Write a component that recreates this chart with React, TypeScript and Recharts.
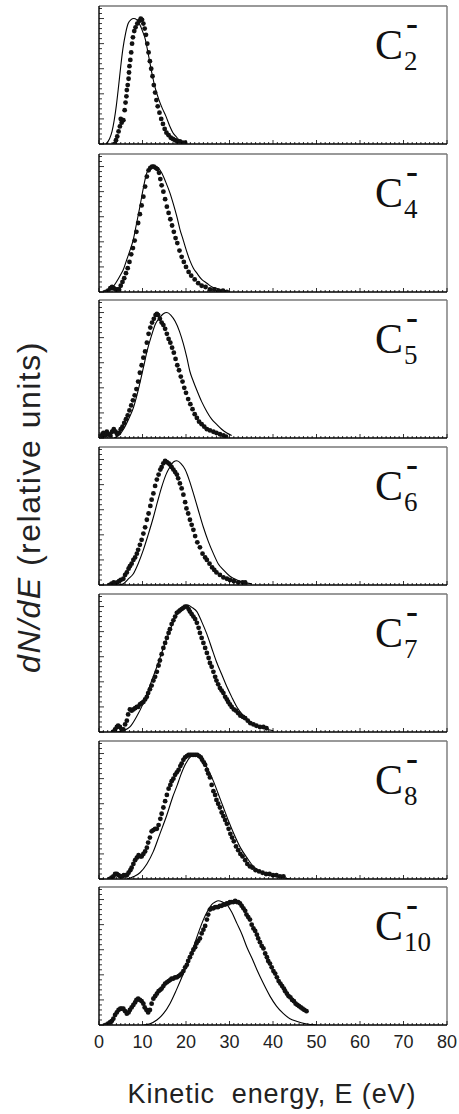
import React from "react";
import { ComposedChart, Scatter, Line, XAxis, YAxis, ReferenceLine } from "recharts";

type Pt = [number, number];

// x axis labels (eV) and tick positions
const energyLabels = [0, 10, 20, 30, 40, 50, 60, 70, 80];
const energyTicks = Array.from({ length: 81 }, (_, i) => i);
// y axis: minor ticks every 0.04, major every 0.2
const yTicks = Array.from({ length: 28 }, (_, k) => Math.round(k * 4) / 100);

const ionSubs = ["2", "4", "5", "6", "7", "8", "10"];

// measured points (E, dN/dE normalised)
const c2Dots: Pt[] = [
  [3.6, 0.0], [3.9, 0.03], [4.2, 0.06], [4.5, 0.1], [4.8, 0.14], [5.0, 0.2], [5.2, 0.17], [5.6, 0.19],
  [5.9, 0.27], [6.1, 0.33], [6.3, 0.38], [6.4, 0.43], [6.6, 0.47], [6.8, 0.52], [6.9, 0.57], [7.0, 0.62],
  [7.2, 0.67], [7.4, 0.73], [7.6, 0.8], [7.8, 0.85], [8.1, 0.9], [8.4, 0.93], [8.8, 0.96], [9.2, 0.98],
  [9.6, 1.0], [9.9, 0.99], [10.2, 0.96], [10.5, 0.92], [10.8, 0.87], [11.1, 0.8], [11.4, 0.73], [11.7, 0.66],
  [12.0, 0.6], [12.3, 0.54], [12.6, 0.47], [12.9, 0.41], [13.2, 0.35], [13.5, 0.3], [13.9, 0.25], [14.3, 0.2],
  [14.7, 0.16], [15.1, 0.12], [15.5, 0.09], [16.0, 0.07], [16.5, 0.05], [17.0, 0.04], [17.5, 0.03],
  [18.0, 0.02], [18.6, 0.02], [19.2, 0.01], [19.8, 0.01],
];
const c2Fit: Pt[] = [
  [1.6, 0], [2.4, 0.04], [3.0, 0.1], [3.5, 0.19], [4.0, 0.31], [4.5, 0.46], [5.0, 0.62], [5.5, 0.76],
  [6.1, 0.88], [6.7, 0.96], [7.3, 0.99], [8.0, 1.0], [8.7, 0.99], [9.4, 0.95], [10.0, 0.9], [10.6, 0.84],
  [11.2, 0.74], [11.8, 0.63], [12.3, 0.54], [12.9, 0.45], [13.8, 0.35], [14.6, 0.28], [15.4, 0.22],
  [16.3, 0.14], [17.0, 0.09], [17.7, 0.06], [18.8, 0.02], [20.0, 0],
];

const c4Dots: Pt[] = [
  [1.6, 0.0], [2.1, 0.01], [2.6, 0.03], [3.0, 0.04], [3.4, 0.03], [3.8, 0.02], [4.2, 0.02], [4.6, 0.02],
  [5.0, 0.05], [5.4, 0.08], [5.8, 0.11], [6.2, 0.15], [6.6, 0.19], [7.0, 0.24], [7.4, 0.3], [7.8, 0.35],
  [8.2, 0.41], [8.6, 0.48], [9.0, 0.55], [9.4, 0.62], [9.8, 0.69], [10.2, 0.76], [10.6, 0.84], [11.0, 0.92],
  [11.4, 0.97], [11.8, 0.99], [12.2, 1.0], [12.6, 1.0], [13.0, 0.99], [13.4, 0.98], [13.8, 0.95], [14.1, 0.9],
  [14.4, 0.85], [14.8, 0.8], [15.2, 0.74], [15.6, 0.68], [16.0, 0.63], [16.4, 0.58], [16.8, 0.53], [17.2, 0.48],
  [17.6, 0.43], [18.0, 0.39], [18.5, 0.33], [19.0, 0.28], [19.5, 0.24], [20.0, 0.2], [20.6, 0.16], [21.2, 0.13],
  [22.0, 0.1], [22.8, 0.07], [23.6, 0.05], [24.5, 0.04], [25.5, 0.02], [26.5, 0.02], [27.5, 0.01],
  [28.5, 0.01], [29.4, 0.0],
];
const c4Fit: Pt[] = [
  [2.0, 0.0], [3.0, 0.03], [4.0, 0.08], [5.0, 0.14], [5.6, 0.18], [6.4, 0.26], [7.2, 0.34], [7.9, 0.42],
  [8.6, 0.54], [9.4, 0.68], [10.2, 0.83], [11.0, 0.95], [11.9, 0.99], [12.9, 1.0], [13.6, 0.99], [14.4, 0.95],
  [15.3, 0.88], [16.3, 0.79], [17.1, 0.7], [17.9, 0.6], [18.6, 0.5], [19.4, 0.41], [20.1, 0.33], [20.9, 0.25],
  [21.7, 0.19], [22.5, 0.15], [23.6, 0.1], [24.8, 0.07], [26.0, 0.04], [27.0, 0.03], [28.5, 0.01], [30.0, 0.0],
];

const c5Dots: Pt[] = [
  [0.6, 0.02], [1.0, 0.04], [1.4, 0.02], [1.8, 0.05], [2.2, 0.03], [2.6, 0.02], [3.0, 0.05], [3.4, 0.07],
  [3.8, 0.05], [4.2, 0.03], [4.6, 0.04], [5.0, 0.07], [5.4, 0.09], [5.8, 0.12], [6.2, 0.15], [6.6, 0.18],
  [7.0, 0.22], [7.4, 0.26], [7.8, 0.3], [8.2, 0.34], [8.6, 0.39], [9.0, 0.45], [9.4, 0.52], [9.8, 0.58],
  [10.2, 0.64], [10.6, 0.69], [11.0, 0.76], [11.4, 0.83], [11.8, 0.88], [12.2, 0.92], [12.6, 0.95], [13.0, 0.98],
  [13.3, 0.99], [13.6, 0.98], [14.0, 0.95], [14.4, 0.92], [14.8, 0.9], [15.2, 0.87], [15.6, 0.83], [16.0, 0.79],
  [16.4, 0.76], [16.8, 0.72], [17.2, 0.68], [17.6, 0.63], [18.0, 0.58], [18.4, 0.54], [18.8, 0.49], [19.2, 0.45],
  [19.6, 0.4], [20.0, 0.36], [20.5, 0.31], [21.0, 0.27], [21.5, 0.23], [22.0, 0.19], [22.5, 0.16], [23.0, 0.13],
  [23.6, 0.11], [24.2, 0.09], [24.8, 0.07], [25.5, 0.06], [26.3, 0.05], [27.0, 0.04], [27.8, 0.03],
  [28.6, 0.02], [29.2, 0.01],
];
const c5Fit: Pt[] = [
  [3.5, 0.0], [4.8, 0.03], [5.8, 0.08], [6.8, 0.15], [7.9, 0.24], [9.0, 0.38], [10.2, 0.56], [11.1, 0.7],
  [12.1, 0.82], [13.0, 0.91], [14.0, 0.96], [14.8, 0.99], [15.6, 1.0], [16.5, 0.98], [17.5, 0.93], [18.5, 0.85],
  [19.4, 0.75], [20.2, 0.64], [20.9, 0.53], [21.7, 0.45], [22.5, 0.38], [23.6, 0.29], [24.8, 0.21], [25.9, 0.15],
  [27.0, 0.11], [28.2, 0.07], [29.4, 0.04], [30.5, 0.02],
];

const c6Dots: Pt[] = [
  [2.5, 0.0], [2.9, 0.01], [3.4, 0.02], [3.8, 0.01], [4.2, 0.02], [4.6, 0.03], [5.0, 0.04], [5.6, 0.05],
  [6.0, 0.08], [6.4, 0.1], [6.8, 0.13], [7.1, 0.15], [7.5, 0.17], [7.9, 0.2], [8.3, 0.22], [8.7, 0.25],
  [9.0, 0.28], [9.4, 0.32], [9.8, 0.36], [10.2, 0.41], [10.6, 0.46], [11.0, 0.52], [11.4, 0.57], [11.8, 0.63],
  [12.1, 0.68], [12.5, 0.73], [12.9, 0.79], [13.3, 0.84], [13.7, 0.88], [14.1, 0.92], [14.4, 0.94], [14.8, 0.97],
  [15.2, 0.99], [15.6, 0.98], [16.0, 0.97], [16.3, 0.96], [16.7, 0.94], [17.1, 0.92], [17.5, 0.9], [17.9, 0.88],
  [18.2, 0.85], [18.6, 0.81], [19.0, 0.77], [19.4, 0.72], [19.8, 0.66], [20.1, 0.61], [20.5, 0.57], [20.9, 0.52],
  [21.3, 0.48], [21.7, 0.44], [22.1, 0.39], [22.6, 0.34], [23.2, 0.3], [23.8, 0.25], [24.4, 0.22], [24.8, 0.2],
  [25.4, 0.17], [26.0, 0.14], [26.5, 0.12], [27.0, 0.1], [27.8, 0.08], [28.6, 0.06], [29.4, 0.05], [30.1, 0.04],
  [31.0, 0.03], [32.0, 0.02], [33.0, 0.02], [33.6, 0.02],
];
const c6Fit: Pt[] = [
  [4.5, 0.0], [5.6, 0.01], [6.8, 0.05], [7.9, 0.09], [9.0, 0.17], [10.2, 0.28], [11.3, 0.4], [12.5, 0.54],
  [13.5, 0.67], [14.4, 0.78], [15.4, 0.88], [16.3, 0.94], [17.1, 0.98], [17.9, 0.99], [18.8, 0.97], [19.8, 0.92],
  [20.8, 0.83], [21.7, 0.73], [22.8, 0.6], [24.0, 0.46], [25.1, 0.35], [26.3, 0.25], [27.4, 0.17], [28.6, 0.12],
  [30.1, 0.07], [31.7, 0.04], [33.4, 0.02], [35.1, 0.01],
];

const c7Dots: Pt[] = [
  [3.2, 0.0], [3.7, 0.02], [4.1, 0.04], [4.4, 0.05], [4.8, 0.04], [5.2, 0.02], [5.6, 0.02], [6.0, 0.06],
  [6.4, 0.09], [6.7, 0.14], [7.1, 0.18], [7.5, 0.17], [7.9, 0.18], [8.3, 0.19], [8.7, 0.2], [9.0, 0.2],
  [9.4, 0.22], [9.8, 0.23], [10.2, 0.24], [10.6, 0.26], [11.0, 0.28], [11.3, 0.31], [11.7, 0.34], [12.1, 0.37],
  [12.5, 0.41], [12.9, 0.44], [13.3, 0.48], [13.7, 0.53], [14.0, 0.57], [14.4, 0.62], [14.8, 0.67], [15.2, 0.71],
  [15.6, 0.75], [16.0, 0.79], [16.3, 0.82], [16.7, 0.86], [17.1, 0.89], [17.5, 0.92], [17.9, 0.95], [18.3, 0.96],
  [18.6, 0.97], [19.0, 0.98], [19.4, 0.99], [19.8, 1.0], [20.2, 1.0], [20.6, 0.98], [20.9, 0.96], [21.3, 0.94],
  [21.7, 0.92], [22.1, 0.9], [22.5, 0.87], [22.9, 0.83], [23.2, 0.79], [23.6, 0.75], [24.0, 0.71], [24.4, 0.67],
  [24.8, 0.63], [25.2, 0.59], [25.5, 0.55], [25.9, 0.52], [26.3, 0.48], [26.7, 0.44], [27.0, 0.41], [27.4, 0.38],
  [27.8, 0.35], [28.2, 0.33], [28.6, 0.31], [29.0, 0.28], [29.4, 0.26], [29.7, 0.24], [30.1, 0.22], [30.5, 0.2],
  [31.0, 0.18], [31.5, 0.17], [32.0, 0.15], [32.5, 0.13], [33.1, 0.12], [33.6, 0.11], [34.2, 0.09], [34.8, 0.07],
  [35.5, 0.06], [36.2, 0.05], [37.0, 0.04], [37.8, 0.04], [38.5, 0.03],
];
const c7Fit: Pt[] = [
  [4.1, 0.0], [5.5, 0.01], [7.1, 0.04], [8.6, 0.12], [10.2, 0.23], [11.7, 0.37], [13.3, 0.52], [14.8, 0.67],
  [16.3, 0.81], [17.5, 0.91], [18.6, 0.97], [19.6, 1.0], [20.5, 1.01], [21.5, 0.99], [22.5, 0.96], [23.6, 0.88],
  [24.8, 0.78], [25.9, 0.67], [27.0, 0.56], [28.2, 0.46], [29.4, 0.36], [30.5, 0.28], [31.7, 0.2], [33.2, 0.13],
  [34.7, 0.08], [36.2, 0.05], [37.8, 0.03], [40.1, 0.01],
];

const c8Dots: Pt[] = [
  [2.5, 0.0], [2.9, 0.01], [3.3, 0.02], [3.7, 0.04], [4.1, 0.04], [4.5, 0.03], [4.9, 0.02], [5.3, 0.02],
  [5.7, 0.03], [6.1, 0.03], [6.4, 0.03], [6.8, 0.05], [7.2, 0.07], [7.5, 0.09], [7.9, 0.12], [8.3, 0.15],
  [8.7, 0.17], [9.1, 0.19], [9.5, 0.18], [9.8, 0.18], [10.2, 0.2], [10.6, 0.22], [11.0, 0.25], [11.3, 0.29],
  [11.7, 0.33], [12.1, 0.38], [12.5, 0.39], [12.9, 0.4], [13.3, 0.4], [13.7, 0.43], [14.1, 0.48], [14.4, 0.52],
  [14.8, 0.57], [15.2, 0.62], [15.6, 0.67], [16.0, 0.72], [16.4, 0.75], [16.7, 0.78], [17.1, 0.8], [17.5, 0.83],
  [17.9, 0.85], [18.3, 0.87], [18.7, 0.9], [19.0, 0.92], [19.4, 0.95], [19.8, 0.97], [20.2, 0.98], [20.6, 0.99],
  [21.0, 0.99], [21.4, 0.99], [21.8, 0.99], [22.2, 0.99], [22.6, 0.99], [23.0, 0.98], [23.4, 0.97], [23.7, 0.95],
  [24.1, 0.93], [24.4, 0.91], [24.8, 0.87], [25.1, 0.84], [25.5, 0.81], [25.9, 0.75], [26.3, 0.7], [26.7, 0.67],
  [27.0, 0.63], [27.4, 0.6], [27.8, 0.57], [28.2, 0.53], [28.6, 0.5], [29.0, 0.47], [29.4, 0.44], [29.8, 0.4],
  [30.2, 0.36], [30.6, 0.33], [31.0, 0.3], [31.5, 0.26], [32.0, 0.23], [32.5, 0.2], [33.0, 0.18], [33.6, 0.15],
  [34.1, 0.12], [34.7, 0.1], [35.3, 0.09], [36.0, 0.07], [36.8, 0.06], [37.6, 0.05], [38.4, 0.04], [39.2, 0.04],
  [40.0, 0.03], [40.8, 0.03], [41.6, 0.02], [42.4, 0.02],
];
const c8Fit: Pt[] = [
  [6.4, 0.0], [8.0, 0.02], [9.4, 0.05], [11.0, 0.12], [12.5, 0.22], [14.0, 0.36], [15.6, 0.51], [16.9, 0.65],
  [18.0, 0.75], [18.6, 0.81], [19.8, 0.91], [20.9, 0.97], [22.1, 0.99], [23.0, 0.98], [24.0, 0.94], [25.1, 0.87],
  [26.3, 0.78], [27.4, 0.68], [28.6, 0.57], [29.8, 0.46], [31.0, 0.36], [32.5, 0.25], [34.0, 0.17], [35.5, 0.1],
  [37.0, 0.06], [38.9, 0.03], [40.9, 0.02], [43.9, 0.0],
];

const c10Dots: Pt[] = [
  [1.6, 0.0], [2.1, 0.01], [2.5, 0.02], [2.9, 0.03], [3.3, 0.05], [3.7, 0.08], [4.1, 0.1], [4.5, 0.12],
  [4.9, 0.13], [5.2, 0.13], [5.6, 0.13], [6.0, 0.11], [6.4, 0.09], [6.8, 0.1], [7.1, 0.12], [7.5, 0.14],
  [7.9, 0.16], [8.3, 0.18], [8.6, 0.2], [9.0, 0.21], [9.4, 0.2], [9.8, 0.19], [10.2, 0.17], [10.5, 0.14],
  [10.9, 0.12], [11.3, 0.1], [11.7, 0.12], [12.1, 0.17], [12.5, 0.21], [12.9, 0.23], [13.3, 0.25], [13.7, 0.27],
  [14.1, 0.28], [14.4, 0.29], [14.8, 0.31], [15.2, 0.33], [15.6, 0.34], [16.0, 0.35], [16.4, 0.36], [16.7, 0.37],
  [17.1, 0.37], [17.5, 0.38], [17.9, 0.38], [18.3, 0.39], [18.7, 0.4], [19.0, 0.41], [19.4, 0.43], [19.8, 0.46],
  [20.2, 0.48], [20.5, 0.51], [20.9, 0.54], [21.3, 0.57], [21.7, 0.6], [22.1, 0.62], [22.4, 0.65], [22.8, 0.67],
  [23.2, 0.69], [23.6, 0.73], [24.0, 0.76], [24.4, 0.79], [24.8, 0.84], [25.1, 0.88], [25.5, 0.92], [25.9, 0.93],
  [26.3, 0.93], [26.7, 0.94], [27.1, 0.94], [27.4, 0.94], [27.8, 0.95], [28.2, 0.95], [28.6, 0.96], [29.0, 0.96],
  [29.4, 0.97], [29.8, 0.97], [30.1, 0.98], [30.5, 0.98], [30.9, 0.98], [31.3, 0.99], [31.7, 0.98], [32.0, 0.98],
  [32.4, 0.97], [32.8, 0.95], [33.2, 0.93], [33.6, 0.91], [33.9, 0.88], [34.3, 0.86], [34.7, 0.84], [35.1, 0.8],
  [35.5, 0.77], [35.9, 0.75], [36.3, 0.72], [36.6, 0.69], [37.0, 0.66], [37.4, 0.63], [37.8, 0.61], [38.2, 0.57],
  [38.6, 0.54], [38.9, 0.51], [39.3, 0.49], [39.7, 0.46], [40.1, 0.43], [40.5, 0.41], [40.9, 0.38], [41.3, 0.35],
  [41.7, 0.33], [42.1, 0.31], [42.5, 0.29], [42.8, 0.27], [43.2, 0.25], [43.6, 0.23], [44.0, 0.22], [44.4, 0.2],
  [44.8, 0.19], [45.2, 0.17], [45.6, 0.16], [46.0, 0.15], [46.4, 0.14], [46.8, 0.13], [47.2, 0.12], [47.7, 0.11],
];
const c10Fit: Pt[] = [
  [10.2, 0.0], [11.7, 0.01], [13.3, 0.04], [14.8, 0.09], [16.3, 0.17], [17.8, 0.28], [19.4, 0.41], [20.6, 0.52],
  [21.7, 0.62], [22.9, 0.74], [24.0, 0.84], [25.0, 0.91], [25.9, 0.96], [26.7, 0.98], [27.4, 0.99], [28.4, 0.98],
  [29.4, 0.96], [30.5, 0.9], [31.7, 0.81], [32.9, 0.72], [34.0, 0.62], [35.2, 0.53], [36.3, 0.44], [37.8, 0.33],
  [39.3, 0.23], [40.8, 0.15], [42.4, 0.09], [43.9, 0.05], [45.4, 0.03], [47.5, 0.01], [50.0, 0.0],
];

const panels = [
  { sub: ionSubs[0], dots: c2Dots, fit: c2Fit },
  { sub: ionSubs[1], dots: c4Dots, fit: c4Fit },
  { sub: ionSubs[2], dots: c5Dots, fit: c5Fit },
  { sub: ionSubs[3], dots: c6Dots, fit: c6Fit },
  { sub: ionSubs[4], dots: c7Dots, fit: c7Fit },
  { sub: ionSubs[5], dots: c8Dots, fit: c8Fit },
  { sub: ionSubs[6], dots: c10Dots, fit: c10Fit },
];

const PANEL_TOPS = [6, 154, 300, 447, 594, 741, 887];
const PLOT_H = 138;
const PLOT_LEFT = 99;
const PLOT_W = 348;
const CHART_W = 459;
const SANS = '"Liberation Sans", Arial, Helvetica, sans-serif';
const SERIF = '"Liberation Serif", "Times New Roman", serif';

const toRows = (pts: Pt[]) => pts.map(([e, v]) => ({ e, v }));

function EnergyTick(props: any) {
  const { x, y, payload, showLabel } = props;
  const major = payload.value % 10 === 0;
  return (
    <g>
      <line x1={x} y1={y} x2={x} y2={y - (major ? 4 : 2)} stroke="#000" strokeWidth={0.8} />
      {showLabel && energyLabels.includes(payload.value) ? (
        <text x={x} y={y + 23} textAnchor="middle" fontSize={18} fontFamily={SANS} fill="#222">
          {payload.value}
        </text>
      ) : null}
    </g>
  );
}

function ValueTick(props: any) {
  const { x, y, index } = props;
  const major = index % 5 === 0;
  return <line x1={x} y1={y} x2={x + (major ? 5 : 3)} y2={y} stroke="#000" strokeWidth={0.8} />;
}

function Dot(props: any) {
  return <circle cx={props.cx} cy={props.cy} r={2.4} fill="#111" />;
}

function Panel({ dots, fit, sub, top, last }: any) {
  const bottom = last ? 32 : 5;
  const h = 2 + PLOT_H + bottom;
  return (
    <div style={{ position: "absolute", left: 0, top: top - 2, width: CHART_W, height: h }}>
      <ComposedChart
        width={CHART_W}
        height={h}
        margin={{ top: 2, right: CHART_W - PLOT_LEFT - PLOT_W, bottom: bottom - 1, left: PLOT_LEFT - 1 }}
      >
        <XAxis
          xAxisId="e"
          dataKey="e"
          type="number"
          domain={[0, 80]}
          ticks={energyTicks}
          interval={0}
          height={1}
          tickSize={0}
          tickMargin={0}
          tickLine={false}
          axisLine={{ stroke: "#000", strokeWidth: 1.6 }}
          tick={(p: any) => <EnergyTick {...p} showLabel={last} />}
          allowDataOverflow
        />
        <YAxis
          yAxisId="v"
          dataKey="v"
          type="number"
          domain={[0, 1.1]}
          ticks={yTicks}
          interval={0}
          width={1}
          tickSize={0}
          tickMargin={0}
          tickLine={false}
          axisLine={{ stroke: "#000", strokeWidth: 1.4 }}
          tick={(p: any) => <ValueTick {...p} />}
          allowDataOverflow
        />
        <ReferenceLine xAxisId="e" yAxisId="v" y={1.1} stroke="#777" strokeWidth={1.4} />
        <ReferenceLine xAxisId="e" yAxisId="v" x={80} stroke="#777" strokeWidth={1.4} />
        <Line
          xAxisId="e"
          yAxisId="v"
          data={toRows(fit)}
          dataKey="v"
          type="monotone"
          stroke="#000"
          strokeWidth={1.1}
          dot={false}
          activeDot={false}
          isAnimationActive={false}
        />
        <Scatter
          xAxisId="e"
          yAxisId="v"
          data={toRows(dots)}
          dataKey="v"
          shape={(p: any) => <Dot {...p} />}
          isAnimationActive={false}
        />
      </ComposedChart>
      <div style={{ position: "absolute", left: 375, top: 53 - 0.8375 * 42 + 2, fontFamily: SERIF, fontSize: 42, lineHeight: 1, color: "#111" }}>
        C
      </div>
      <div style={{ position: "absolute", left: 406, top: 29 - 0.8375 * 36 + 2, fontFamily: SERIF, fontSize: 36, fontWeight: "bold", lineHeight: 1, color: "#111" }}>
        -
      </div>
      <div style={{ position: "absolute", left: 404, top: 65 - 0.8375 * 27 + 2, fontFamily: SERIF, fontSize: 27, lineHeight: 1, color: "#111" }}>
        {sub}
      </div>
    </div>
  );
}

export default function App() {
  return (
    <div style={{ position: "absolute", left: 0, top: 0, width: 459, height: 1114, background: "#fff" }}>
      {panels.map((p, i) => (
        <Panel key={p.sub} {...p} top={PANEL_TOPS[i]} last={i === panels.length - 1} />
      ))}
      <div
        style={{
          position: "absolute",
          left: 29,
          top: 507,
          transform: "translate(-50%, -50%) rotate(-90deg)",
          whiteSpace: "nowrap",
          fontFamily: SANS,
          fontSize: 32,
          letterSpacing: 1.5,
          color: "#222",
        }}
      >
        <i>dN/dE</i> (relative units)
      </div>
      <div
        style={{
          position: "absolute",
          left: 272,
          top: 1104 - 0.8465 * 27,
          transform: "translateX(-50%)",
          whiteSpace: "pre",
          fontFamily: SANS,
          fontSize: 27,
          letterSpacing: 0.9,
          lineHeight: 1,
          color: "#222",
        }}
      >
        {"Kinetic  energy, E (eV)"}
      </div>
    </div>
  );
}
